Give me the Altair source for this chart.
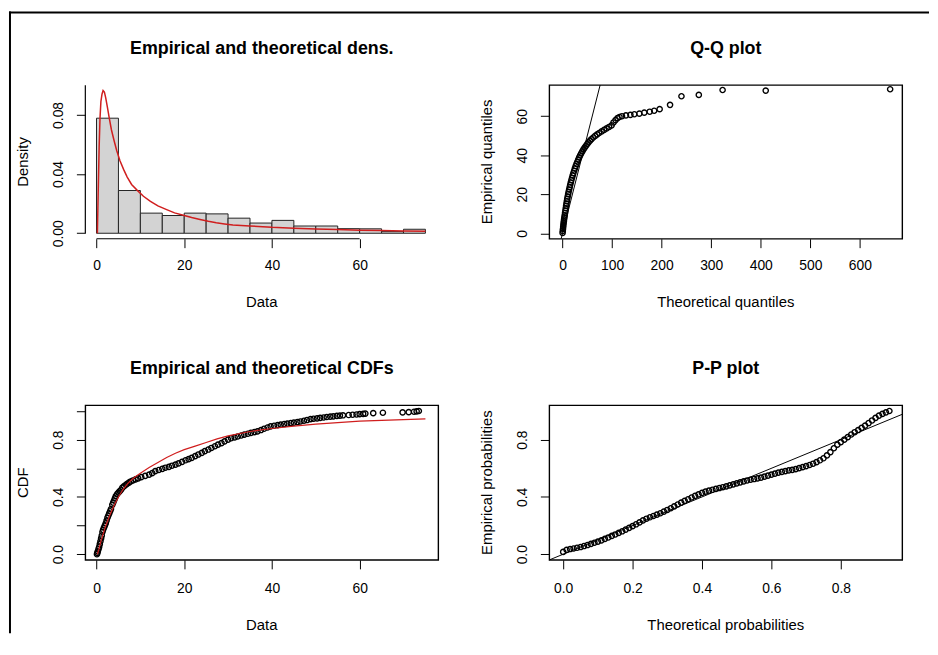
import altair as alt
import pandas as pd

FONT = "Liberation Sans"
RED = "#d01e1e"

# ---------------- data ----------------
# histogram (density scale)
bin_start = [0, 5, 10, 15, 20, 25, 30, 35, 40, 45, 50, 55, 60, 65, 70]
bin_end = [5, 10, 15, 20, 25, 30, 35, 40, 45, 50, 55, 60, 65, 70, 75]
bin_density = [0.0778, 0.0289, 0.0136, 0.0120, 0.0136, 0.0131, 0.0102, 0.0069,
               0.0087, 0.0049, 0.0049, 0.0031, 0.0030, 0.0011, 0.0027]

# fitted density curve
dens_x = [0.2, 0.4, 0.6, 0.8, 1.0, 1.25, 1.5, 1.8, 2.1, 2.5, 2.9, 3.4, 4.0, 4.6, 5.35,
          6.2, 7.0, 8.0, 9.3, 10.7, 12.3, 14.0, 16.0, 17.8, 19.8, 21.7, 23.6, 25.5,
          27.3, 29.2, 31.1, 33.0, 34.9, 37.9, 40.0, 45.0, 50.0, 55.0, 60.0, 65.0,
          70.0, 75.0]
dens_y = [0.0, 0.030, 0.058, 0.078, 0.089, 0.094, 0.0965, 0.0955, 0.0915, 0.085,
          0.078, 0.070, 0.0627, 0.056, 0.049, 0.043, 0.038, 0.033, 0.029, 0.025,
          0.0216, 0.0185, 0.016, 0.0138, 0.0122, 0.0106, 0.0093, 0.0081, 0.0071,
          0.0063, 0.0056, 0.0052, 0.0049, 0.0044, 0.0040, 0.0034, 0.0029, 0.0025,
          0.0021, 0.0018, 0.0016, 0.0014]

# Q-Q plot
qq_theo = [0.2, 0.6, 1.0, 1.4, 1.8, 2.3, 2.8, 3.3, 3.9, 4.5, 5.2, 5.9, 6.6, 7.3, 8.0,
           8.8, 9.6, 10.5, 11.4, 12.4, 13.4, 14.5, 15.6, 16.8, 18.0, 19.3, 20.6, 22.0,
           23.5, 25.0, 26.6, 28.3, 30.0, 31.8, 33.7, 35.7, 37.8, 40.0, 42.3, 44.7,
           47.2, 49.8, 52.5, 55.5, 58.5, 62, 66, 70, 74, 79, 84, 89, 94, 99, 103,
           107, 111, 115, 120, 128, 137, 145, 155, 165, 176, 185, 196, 217, 240,
           275, 323, 410, 661]
qq_emp = [0.3, 1.3, 2.3, 3.3, 4.3, 5.3, 6.3, 7.3, 8.3, 9.3, 10.5, 11.7, 12.9, 14.1,
          15.3, 16.5, 17.7, 18.9, 20.1, 21.3, 22.5, 23.7, 24.9, 26.1, 27.3, 28.5,
          29.7, 30.9, 32.1, 33.3, 34.5, 35.6, 36.7, 37.8, 38.9, 40.0, 41.0, 42.0,
          43.0, 43.9, 44.8, 45.7, 46.6, 47.5, 48.3, 49.1, 49.9, 50.7, 51.4, 52.2,
          53.0, 53.8, 54.5, 55.3, 56.8, 58.0, 59.0, 59.6, 60.0, 60.4, 60.7, 61.0,
          61.3, 61.8, 62.3, 62.8, 63.6, 65.8, 70.2, 70.9, 73.4, 73.1, 73.8]

# empirical CDF points
cdf_x = [0.1, 0.2, 0.3, 0.45, 0.6, 0.75, 0.9, 1.05, 1.2, 1.35, 1.5, 1.7, 1.9, 2.1,
         2.3, 2.5, 2.7, 2.9, 3.1, 3.3, 3.6, 3.8, 4.0, 4.2, 4.4, 4.7, 5.0, 5.3, 5.6,
         5.9, 6.3, 6.7, 7.0, 7.4, 7.8, 8.3, 8.9,
         9.5, 10.2, 11.1, 12.0, 12.7, 13.4, 14.2, 15.0, 15.7, 16.5, 17.2, 18.0, 18.7,
         19.5, 20.3, 21.0, 21.7, 22.5, 23.2, 24.0, 24.7, 25.5, 26.2, 27.0, 27.7,
         28.5, 29.2, 30.0, 30.7, 31.5, 32.2, 33.0, 33.7, 34.5, 35.2, 36.0, 36.7,
         37.5, 38.2, 39.0, 39.7,
         40.5, 41.3, 42.0, 42.8, 43.5, 44.3, 45.0, 45.8, 46.5, 47.3, 48.0, 48.8,
         49.5, 50.3, 51.0, 51.8, 52.5, 53.3, 54.0, 54.8, 55.5, 56.2, 57.5, 58.4,
         59.3, 60.0, 60.8, 61.3, 63.1, 65.3, 69.8, 71.2, 72.4, 73.0, 73.5]
cdf_p = [0.0, 0.01, 0.02, 0.035, 0.05, 0.07, 0.09, 0.11, 0.13, 0.155, 0.17, 0.185,
         0.2, 0.215, 0.235, 0.255, 0.27, 0.285, 0.3, 0.315, 0.345, 0.36, 0.375,
         0.39, 0.405, 0.42, 0.43, 0.44, 0.45, 0.465, 0.475, 0.485, 0.492, 0.5,
         0.508, 0.515, 0.523,
         0.53, 0.538, 0.547, 0.556, 0.566, 0.58, 0.588, 0.596, 0.604, 0.61, 0.618,
         0.626, 0.634, 0.645, 0.656, 0.664, 0.673, 0.685, 0.696, 0.708, 0.72,
         0.731, 0.742, 0.754, 0.765, 0.776, 0.788, 0.8, 0.81, 0.816, 0.822, 0.829,
         0.835, 0.841, 0.847, 0.853, 0.858, 0.867, 0.876, 0.885, 0.893,
         0.897, 0.901, 0.905, 0.909, 0.912, 0.916, 0.919, 0.922, 0.927, 0.932,
         0.937, 0.943, 0.946, 0.949, 0.952, 0.955, 0.958, 0.961, 0.963, 0.966,
         0.968, 0.97, 0.972, 0.974, 0.976, 0.978, 0.98, 0.982, 0.985, 0.988, 0.99,
         0.992, 0.995, 0.997, 1.0]

# fitted CDF
fit_x = [0.2, 0.5, 1.0, 1.5, 2.0, 3.0, 4.0, 5.0, 6.0, 7.0, 8.0, 9.0, 10, 12, 14,
         16, 18, 20, 22.5, 25, 27.5, 30, 35, 40, 45, 50, 55, 60, 65, 70, 75]
fit_p = [0.0, 0.03, 0.09, 0.14, 0.19, 0.27, 0.34, 0.40, 0.45, 0.49, 0.52, 0.545,
         0.565, 0.605, 0.64, 0.675, 0.705, 0.73, 0.755, 0.78, 0.805, 0.826, 0.857,
         0.878, 0.895, 0.908, 0.919, 0.929, 0.935, 0.94, 0.945]

# P-P plot
pp_theo = [0.00, 0.01, 0.02, 0.03, 0.04, 0.05, 0.06, 0.07, 0.08, 0.09, 0.10, 0.11,
           0.12, 0.13, 0.14, 0.15, 0.16, 0.17, 0.18, 0.19, 0.20, 0.21, 0.22, 0.23,
           0.24, 0.25, 0.26, 0.27, 0.28, 0.29, 0.30, 0.31, 0.32, 0.33, 0.34, 0.35,
           0.36, 0.37, 0.38, 0.39, 0.40, 0.41, 0.42, 0.43, 0.44, 0.45, 0.46, 0.47,
           0.48, 0.49, 0.50, 0.51, 0.52, 0.53, 0.54, 0.55, 0.56, 0.57, 0.58, 0.59,
           0.60, 0.61, 0.62, 0.63, 0.64, 0.65, 0.66, 0.67, 0.68, 0.69, 0.70, 0.71,
           0.72, 0.73, 0.74, 0.75, 0.76, 0.77, 0.78, 0.79, 0.80, 0.81, 0.82, 0.83,
           0.84, 0.85, 0.86, 0.87, 0.88, 0.89, 0.90, 0.91, 0.92, 0.93, 0.94]
pp_emp = [0.016, 0.030, 0.036, 0.040, 0.045, 0.050, 0.057, 0.064, 0.072, 0.080,
          0.088, 0.097, 0.107, 0.117, 0.128, 0.138, 0.149, 0.160, 0.172, 0.184,
          0.196, 0.209, 0.222, 0.236, 0.248, 0.258, 0.267, 0.276, 0.286, 0.297,
          0.309, 0.321, 0.334, 0.347, 0.360, 0.372, 0.384, 0.396, 0.407, 0.418,
          0.428, 0.437, 0.444, 0.450, 0.456, 0.462, 0.468, 0.474, 0.481, 0.488,
          0.495, 0.502, 0.509, 0.515, 0.520, 0.525, 0.530, 0.535, 0.542, 0.549,
          0.556, 0.563, 0.570, 0.575, 0.580, 0.585, 0.589, 0.594, 0.601, 0.608,
          0.615, 0.623, 0.632, 0.643, 0.656, 0.670, 0.690, 0.713, 0.740, 0.765,
          0.783, 0.800, 0.818, 0.836, 0.852, 0.867, 0.882, 0.898, 0.916, 0.934,
          0.952, 0.968, 0.980, 0.990, 1.000]

# tick values / labels
hist_xticks = [0, 20, 40, 60]
hist_yticks = [0, 0.02, 0.04, 0.06, 0.08, 0.1]
hist_ylabels = ["0.00", "0.04", "0.08"]
qq_xticks = [0, 100, 200, 300, 400, 500, 600]
qq_yticks = [0, 20, 40, 60]
prob_ticks = [0, 0.2, 0.4, 0.6, 0.8, 1.0]
prob_labels = ["0.0", "0.4", "0.8"]
pp_xticks = [0, 0.2, 0.4, 0.6, 0.8]

# ---------------- layout constants ----------------
W = 356
H1 = 155
H2 = 156
PT_SIZE = 28
one = pd.DataFrame({"k": [0]})
BOX = alt.ViewBackground(stroke="#000000", strokeWidth=1.4)


def axis(values, fmt, pad, orient, shown=None):
    kw = dict(values=values, format=fmt, title=None, domain=False, grid=False,
              ticks=True, tickSize=9, tickColor="black", tickWidth=1,
              labelFont=FONT, labelFontSize=14, labelColor="black",
              labelPadding=pad, labelOverlap=False, labelFlush=False,
              labelBound=False)
    if orient == "left":
        kw.update(labelAngle=270, labelAlign="center", labelBaseline="middle")
    else:
        kw.update(labelAlign="center", labelBaseline="middle")
    if shown is not None:
        arr = ",".join("'%s'" % s for s in shown)
        kw["labelExpr"] = "indexof([%s], datum.label) >= 0 ? datum.label : ''" % arr
    return alt.Axis(**kw)


def text(txt, x, y, size, bold=False, angle=0):
    return alt.Chart(pd.DataFrame({"t": [txt]})).mark_text(
        font=FONT, fontSize=size, fontWeight="bold" if bold else "normal",
        angle=angle, align="center", baseline="middle", color="black"
    ).encode(text="t:N", x=alt.value(x), y=alt.value(y))


def labels(title, xt, yt, h, xoff):
    return [text(title, W / 2, -36.3, 18, bold=True),
            text(xt, W / 2, h + xoff, 15),
            text(yt, -63, h / 2, 15, angle=270)]


def points(df, xf, yf, xs, ys, xa, ya):
    return alt.Chart(df).mark_point(shape="circle", filled=False, color="black",
                                    size=PT_SIZE, strokeWidth=1.4, opacity=1).encode(
        x=alt.X(xf, scale=xs, axis=xa), y=alt.Y(yf, scale=ys, axis=ya))


# ---------------- panel 1: histogram + density ----------------
hx = alt.Scale(domain=[-2.55, 77.93], nice=False, zero=False)
hy = alt.Scale(domain=[-0.0037, 0.1002], nice=False, zero=False)
hxa = axis(hist_xticks, "d", 18, "bottom")
hya = axis(hist_yticks, ".2f", 18.5, "left", hist_ylabels)

hist_df = pd.DataFrame({"a": bin_start, "b": bin_end, "d": bin_density})
dens_df = pd.DataFrame({"x": dens_x, "y": dens_y})

bars = alt.Chart(hist_df).mark_rect(fill="#d3d3d3", stroke="#222222", strokeWidth=1).encode(
    x=alt.X("a:Q", scale=hx, axis=hxa), x2="b:Q",
    y=alt.Y("d:Q", scale=hy, axis=hya), y2=alt.datum(0))
dline = alt.Chart(dens_df).mark_line(color=RED, strokeWidth=1.5).encode(
    x=alt.X("x:Q", scale=hx, axis=hxa), y=alt.Y("y:Q", scale=hy, axis=hya))
yaxline = alt.Chart(one).mark_rule(color="black", strokeWidth=1.2).encode(
    x=alt.value(0), y=alt.datum(0), y2=alt.datum(0.1))
xaxline = alt.Chart(one).mark_rule(color="black", strokeWidth=1.2).encode(
    y=alt.value(H1), x=alt.datum(0), x2=alt.datum(60))
# outer frame (left and top edges of the figure border), drawn as thin filled rects
FT = -74.3
FL = -77
frame_left = alt.Chart(one).mark_rect(fill="black", strokeWidth=0).encode(
    x=alt.value(FL), x2=alt.value(FL + 2), y=alt.value(FT), y2=alt.value(553))
frame_top = alt.Chart(one).mark_rect(fill="black", strokeWidth=0).encode(
    x=alt.value(FL), x2=alt.value(851), y=alt.value(FT), y2=alt.value(FT + 2))

p1 = alt.layer(bars, dline, yaxline, xaxline, frame_left, frame_top,
               *labels("Empirical and theoretical dens.", "Data", "Density", H1, 63.7)
               ).properties(width=W, height=H1,
                            view=alt.ViewBackground(stroke="transparent"))

# ---------------- panel 2: Q-Q plot ----------------
qx = alt.Scale(domain=[-26.6, 685.4], nice=False, zero=False)
qy = alt.Scale(domain=[-2.69, 75.93], nice=False, zero=False)
qxa = axis(qq_xticks, "d", 18, "bottom")
qya = axis(qq_yticks, "d", 17.5, "left")
qq_df = pd.DataFrame({"t": qq_theo, "e": qq_emp})
qpts = points(qq_df, "t:Q", "e:Q", qx, qy, qxa, qya)
qline = alt.Chart(one).mark_rule(color="black", strokeWidth=1).encode(
    x=alt.datum(-2.69), y=alt.datum(-2.69), x2=alt.datum(75.93), y2=alt.datum(75.93))
p2 = alt.layer(qpts, qline,
               *labels("Q-Q plot", "Theoretical quantiles", "Empirical quantiles", H1, 64)
               ).properties(width=W, height=H1, view=BOX)

# ---------------- panel 3: CDFs ----------------
cy = alt.Scale(domain=[-0.04, 1.04], nice=False, zero=False)
cxa = axis(hist_xticks, "d", 20, "bottom")
cya = axis(prob_ticks, ".1f", 18.5, "left", prob_labels)
cdf_df = pd.DataFrame({"x": cdf_x, "p": cdf_p})
fit_df = pd.DataFrame({"x": fit_x, "p": fit_p})
cpts = points(cdf_df, "x:Q", "p:Q", hx, cy, cxa, cya)
cline = alt.Chart(fit_df).mark_line(color=RED, strokeWidth=1.2).encode(
    x=alt.X("x:Q", scale=hx, axis=cxa), y=alt.Y("p:Q", scale=cy, axis=cya))
p3 = alt.layer(cpts, cline,
               *labels("Empirical and theoretical CDFs", "Data", "CDF", H2, 66)
               ).properties(width=W, height=H2, view=BOX)

# ---------------- panel 4: P-P plot ----------------
px = alt.Scale(domain=[-0.04, 0.977], nice=False, zero=False)
pxa = axis(pp_xticks, ".1f", 20, "bottom")
pya = axis(prob_ticks, ".1f", 18.5, "left", prob_labels)
pp_df = pd.DataFrame({"t": pp_theo, "e": pp_emp})
ppts = points(pp_df, "t:Q", "e:Q", px, cy, pxa, pya)
pline = alt.Chart(one).mark_rule(color="black", strokeWidth=1).encode(
    x=alt.datum(-0.04), y=alt.datum(-0.04), x2=alt.datum(0.977), y2=alt.datum(0.977))
p4 = alt.layer(ppts, pline,
               *labels("P-P plot", "Theoretical probabilities", "Empirical probabilities", H2, 66)
               ).properties(width=W, height=H2, view=BOX)

chart = alt.concat(p1, p2, p3, p4, columns=2,
                   spacing={"row": 168, "column": 112}, bounds="flush").properties(
    padding={"left": 0, "top": 0, "right": 0, "bottom": 0}
).configure_view(stroke="black", strokeWidth=1).configure(background="white")

chart.save("out.html", embed_options={"renderer": "svg", "actions": False})
